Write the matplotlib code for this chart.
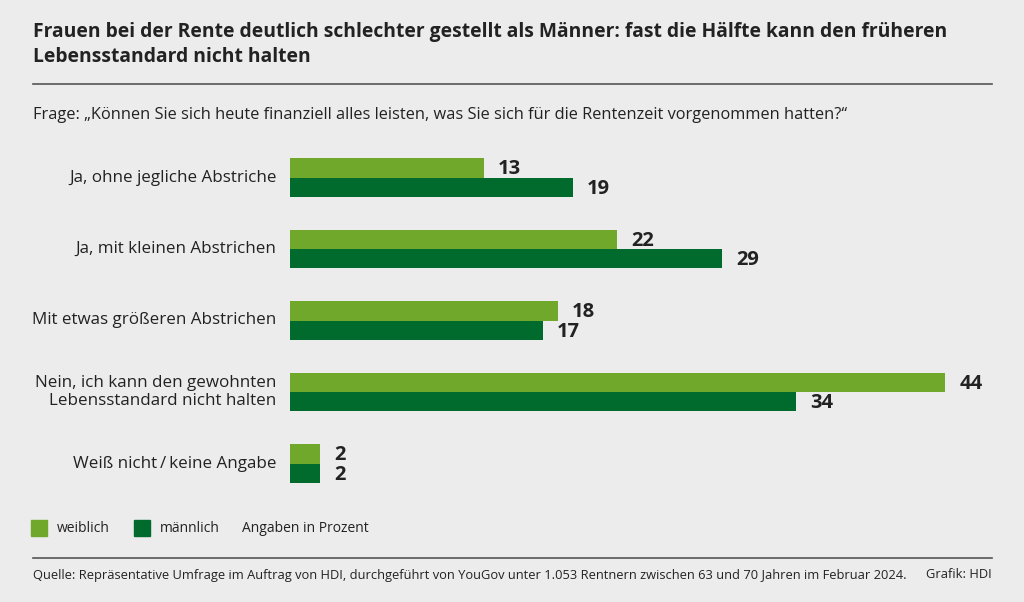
import matplotlib
matplotlib.use('Agg')
import matplotlib.pyplot as plt
import numpy as np

# Daten
kategorien = ['Ja, ohne jegliche Abstriche',
              'Ja, mit kleinen Abstrichen',
              'Mit etwas größeren Abstrichen',
              'Nein, ich kann den gewohnten\nLebensstandard nicht halten',
              'Weiß nicht\u2009/\u2009keine Angabe']
weiblich = [13, 22, 18, 44, 2]
maennlich = [19, 29, 17, 34, 2]

BG = '#ececec'
HELL = '#6fa82b'
DUNKEL = '#006b2d'
TXT = '#222222'

plt.rcParams['font.family'] = ['Open Sans', 'DejaVu Sans']

fig = plt.figure(figsize=(10.24, 6.02), dpi=100)
fig.patch.set_facecolor(BG)

W, H = 1024, 602
def fx(px): return px / W
def fy(py): return 1 - py / H

# Titel
fig.text(fx(33), fy(32), 'Frauen bei der Rente deutlich schlechter gestellt als Männer: fast die Hälfte kann den früheren',
         ha='left', va='center', fontsize=13.9, fontweight='bold', color=TXT)
fig.text(fx(33), fy(57), 'Lebensstandard nicht halten',
         ha='left', va='center', fontsize=13.9, fontweight='bold', color=TXT)
fig.add_artist(plt.Line2D([fx(33), fx(992)], [fy(84), fy(84)], color='#555555', lw=1.2))
fig.text(fx(33), fy(115), 'Frage: \u201eKönnen Sie sich heute finanziell alles leisten, was Sie sich für die Rentenzeit vorgenommen hatten?\u201c',
         ha='left', va='center', fontsize=11.75, color=TXT)

# Balken
ax = fig.add_axes([fx(290), fy(500), fx(992) - fx(290), fy(140) - fy(500)])
ax.set_facecolor(BG)
y = np.arange(len(kategorien))
h = 0.27
ax.barh(y - h / 2, weiblich, height=h, color=HELL)
ax.barh(y + h / 2, maennlich, height=h, color=DUNKEL)
ax.set_xlim(0, 702 / 14.886)
ax.set_ylim(4 + 36.5 / 71.5, -37.5 / 71.5)
ax.axis('off')

for i in range(len(kategorien)):
    ax.text(weiblich[i] + 0.95, y[i] - h / 2 + 0.02, str(weiblich[i]), ha='left', va='center',
            fontsize=14.5, fontweight='bold', color=TXT)
    ax.text(maennlich[i] + 0.95, y[i] + h / 2 + 0.02, str(maennlich[i]), ha='left', va='center',
            fontsize=14.5, fontweight='bold', color=TXT)
    ax.text(-0.9, y[i], kategorien[i], ha='right', va='center', fontsize=12.25,
            color=TXT, linespacing=1.2)

# Legende
fig.patches.append(plt.Rectangle((fx(31), fy(536)), 16 / W, 16 / H, color=HELL, transform=fig.transFigure))
fig.text(fx(57), fy(528), 'weiblich', ha='left', va='center', fontsize=10, color=TXT)
fig.patches.append(plt.Rectangle((fx(134), fy(536)), 16 / W, 16 / H, color=DUNKEL, transform=fig.transFigure))
fig.text(fx(160), fy(528), 'männlich', ha='left', va='center', fontsize=10, color=TXT)
fig.text(fx(242), fy(528), 'Angaben in Prozent', ha='left', va='center', fontsize=10, color=TXT)

# Fusszeile
fig.add_artist(plt.Line2D([fx(33), fx(992)], [fy(558), fy(558)], color='#555555', lw=1.2))
fig.text(fx(33), fy(575), 'Quelle: Repräsentative Umfrage im Auftrag von HDI, durchgeführt von YouGov unter 1.053 Rentnern zwischen 63 und 70 Jahren im Februar 2024.',
         ha='left', va='center', fontsize=9.25, color=TXT)
fig.text(fx(992), fy(575), 'Grafik: HDI', ha='right', va='center', fontsize=9.25, color=TXT)

fig.savefig('out.png', dpi=100, facecolor=BG)
